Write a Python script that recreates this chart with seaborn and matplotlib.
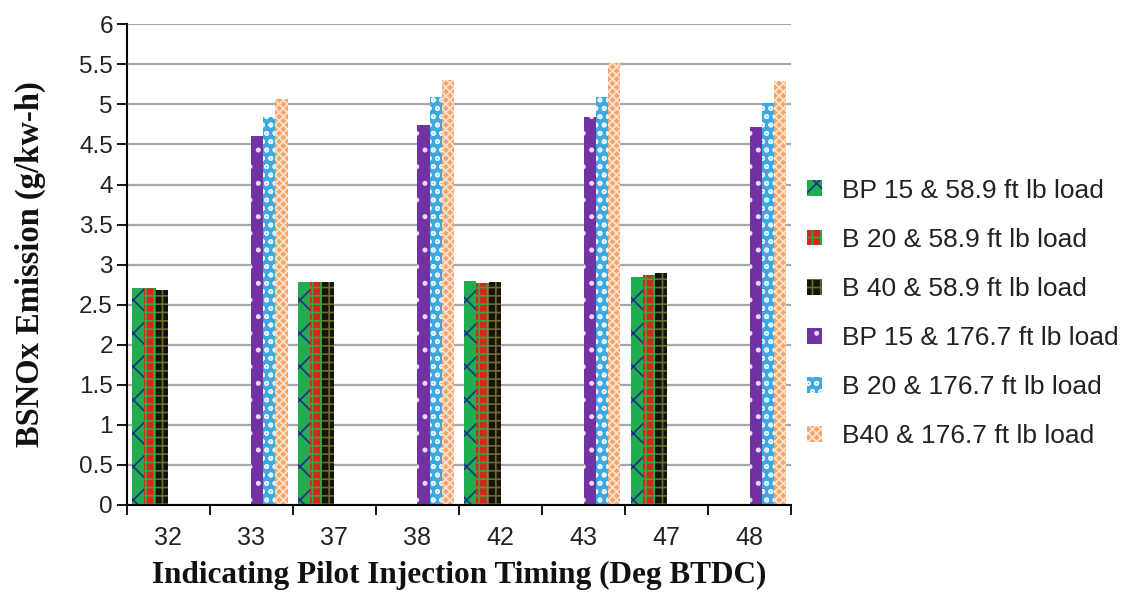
import numpy as np
import pandas as pd
import matplotlib
matplotlib.use("Agg")
import matplotlib.pyplot as plt
from matplotlib.patches import Patch
import seaborn as sns

# Pilot injection timing categories (Deg BTDC)
timings = ["32", "33", "37", "38", "42", "43", "47", "48"]
series = [
    "BP 15 & 58.9 ft lb load",
    "B 20 & 58.9 ft lb load",
    "B 40 & 58.9 ft lb load",
    "BP 15 & 176.7 ft lb load",
    "B 20 & 176.7 ft lb load",
    "B40 & 176.7 ft lb load",
]
nan = np.nan
bp15_low = [2.71, nan, 2.78, nan, 2.79, nan, 2.85, nan]
b20_low = [2.71, nan, 2.78, nan, 2.77, nan, 2.87, nan]
b40_low = [2.68, nan, 2.78, nan, 2.78, nan, 2.89, nan]
bp15_high = [nan, 4.60, nan, 4.74, nan, 4.84, nan, 4.72]
b20_high = [nan, 4.84, nan, 5.09, nan, 5.09, nan, 5.02]
b40_high = [nan, 5.07, nan, 5.31, nan, 5.52, nan, 5.29]
values = [bp15_low, b20_low, b40_low, bp15_high, b20_high, b40_high]
ytick_labels = ["0", "0.5", "1", "1.5", "2", "2.5", "3", "3.5", "4", "4.5", "5", "5.5", "6"]

face_colors = ["#1fae4f", "#d4261f", "#151510", "#7132a4", "#3ea8e0", "#f5a56c"]
hatch_colors = ["#1d2f8a", "#2eaa3c", "#6e6a2a", "#e8d8f5", "#e6f4fc", "#fde3cf"]
hatches = ["x", "++", "++", ".", "oo", "xxxx"]

rows = []
for name, vals in zip(series, values):
    for t, v in zip(timings, vals):
        rows.append({"timing": t, "series": name, "value": v})
df = pd.DataFrame(rows)

sns.set_style("white")
plt.rcParams["hatch.linewidth"] = 1.2

fig = plt.figure(figsize=(11.32, 5.92), dpi=100)
ax = fig.add_axes([0.112, 0.147, 0.587, 0.812])

palette = dict(zip(series, face_colors))
sns.barplot(data=df, x="timing", y="value", hue="series", order=timings,
            hue_order=series, palette=palette, width=0.87, dodge=True,
            saturation=1, errorbar=None, legend=False, ax=ax, linewidth=0)

# Fill pattern for each series
for cont, hc, h in zip(ax.containers, hatch_colors, hatches):
    for bar in cont:
        bar.set_hatch(h)
        bar.set_edgecolor(hc)
        bar.set_linewidth(0)

ax.set_ylim(0, 6)
ax.set_yticks(np.arange(0, 6.01, 0.5))
ax.set_yticklabels(ytick_labels)
ax.set_xlim(-0.5, len(timings) - 0.5)
ax.yaxis.grid(True, color="#a8a8a8", linewidth=1.6)
ax.set_axisbelow(True)

# Category boundary ticks, labels centred in each category
ax.set_xticks(np.arange(-0.5, len(timings), 1.0))
ax.set_xticklabels([])
ax.set_xticks(np.arange(len(timings)), minor=True)
ax.set_xticklabels(timings, minor=True)
ax.tick_params(axis="x", which="major", length=7, width=1.3, color="black", direction="out", bottom=True)
ax.tick_params(axis="x", which="minor", length=0, pad=15, labelsize=18)
ax.tick_params(axis="y", length=7, width=1.3, color="black", direction="out", left=True, labelsize=17.5, pad=3)
for lab in ax.get_xticklabels(minor=True) + ax.get_yticklabels():
    lab.set_family("Liberation Sans")
    lab.set_color("#222222")

for side in ["top", "right"]:
    ax.spines[side].set_visible(False)
for side in ["left", "bottom"]:
    ax.spines[side].set_color("black")
    ax.spines[side].set_linewidth(1.5)

ax.set_xlabel("Indicating Pilot Injection Timing (Deg BTDC)", family="Liberation Serif",
              fontweight="bold", fontsize=22.5, labelpad=8, color="#111111")
ax.set_ylabel("BSNOx Emission (g/kw-h)", family="Liberation Serif",
              fontweight="bold", fontsize=23.5, labelpad=24, color="#111111")

# Legend with patterned swatches
handles = [Patch(facecolor=fc, edgecolor=hc, hatch=h, linewidth=0, label=s)
           for fc, hc, h, s in zip(face_colors, hatch_colors, hatches, series)]
leg = fig.legend(handles=handles, loc="upper left", bbox_to_anchor=(0.713, 0.698),
                 frameon=False, prop={"family": "Liberation Sans", "size": 19},
                 handlelength=0.55, handleheight=0.55, handletextpad=0.76,
                 labelspacing=0.95, borderpad=0, borderaxespad=0)
for t in leg.get_texts():
    t.set_color("#222222")

fig.savefig("out.png", dpi=100)
